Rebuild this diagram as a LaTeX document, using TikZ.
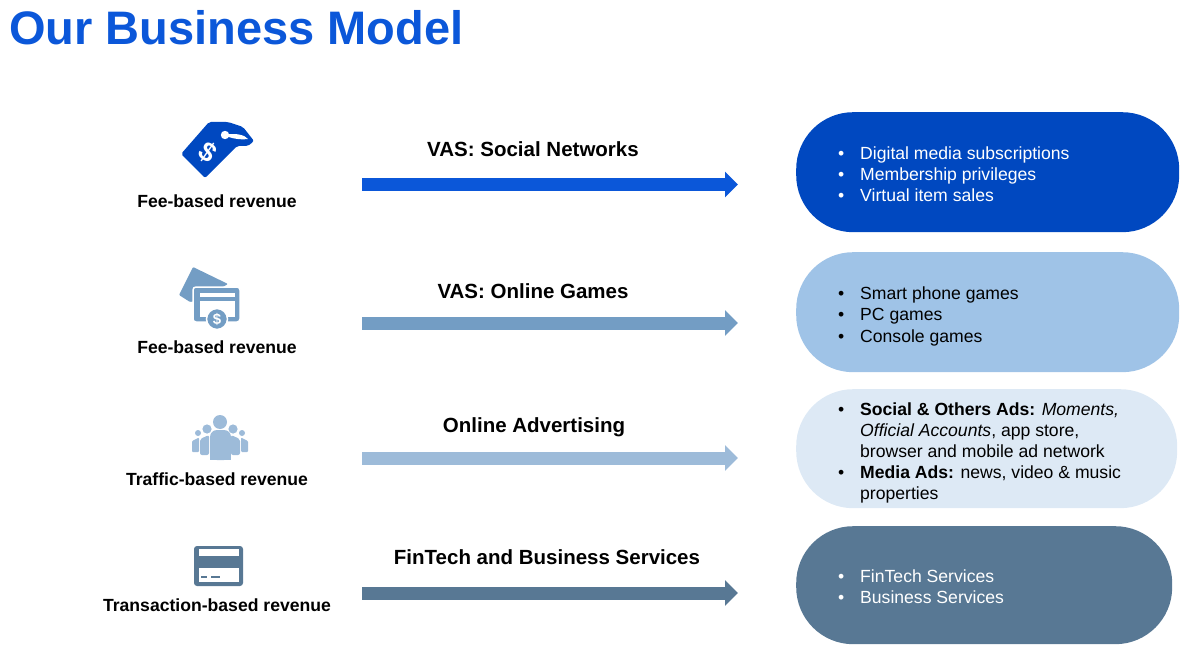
\documentclass[tikz,border=0pt]{standalone}
\usepackage{fontspec}
\setmainfont{Liberation Sans}
\usepackage{array}
\usetikzlibrary{arrows.meta}

\definecolor{titleBlue}{HTML}{0B57D9}
\definecolor{socialPill}{HTML}{0048C0}
\definecolor{gamesArrow}{HTML}{739DC4}
\definecolor{gamesPill}{HTML}{9FC3E7}
\definecolor{adsArrow}{HTML}{9DBBD9}
\definecolor{adsPill}{HTML}{DDE9F5}
\definecolor{finArrow}{HTML}{587894}

\newcommand{\bodysize}[0]{\fontsize{17.6}{21.2}\selectfont}
\newcommand{\bulletlist}[1]{\begin{tabular}{@{}p{22pt}@{}l@{}}#1\end{tabular}}

\begin{document}
\begin{tikzpicture}[x=1pt,y=-1pt]
    \tikzstyle{title} = [
      anchor=west,
      inner sep=0pt,
      text=titleBlue,
      font=\fontsize{47}{50}\selectfont\bfseries,
    ]
    \tikzstyle{revenue} = [
      anchor=center,
      inner sep=0pt,
      font=\fontsize{17.6}{20}\selectfont\bfseries,
    ]
    \tikzstyle{stream} = [
      anchor=center,
      inner sep=0pt,
      font=\fontsize{20.5}{24}\selectfont\bfseries,
    ]
    \tikzstyle{arrow} = [
      line width=13pt,
      -{Triangle[length=13pt,width=25pt]},
    ]
    \tikzstyle{pill} = [
      anchor=north west,
      inner sep=0pt,
      rounded corners=57pt,
    ]
    \tikzstyle{itemlist} = [
      anchor=west,
      inner sep=0pt,
      font=\bodysize,
    ]

    \useasboundingbox (0,0) rectangle (1183,655);

    \coordinate (socialAnchor) at (362,184.5);
    \coordinate (gamesAnchor) at (362,323);
    \coordinate (adsAnchor) at (362,458);
    \coordinate (finAnchor) at (362,593);

    \node[title] (pageTitle) at (9,28) {Our Business Model};

    % fee-based tag
    {
      \fill[socialPill, rounded corners=2pt] (181,154) -- (209,122) -- (228,122) -- (243,127) -- (254,141) -- (248,146) -- (237,146) -- (205,178) -- cycle;
      \fill[white] (225,135) circle (4.2pt);
      \fill[white] (227,134.5) .. controls (236,133) and (245,135) .. (248,139) .. controls (242,140) and (234,139) .. (227,136.5) -- cycle;
      \node[revenue, text=white, rotate=-35, font=\fontsize{27}{27}\selectfont\bfseries] (tagDollar) at (207.5,152) {\$};
      \node[revenue] (socialRevenue) at (217,201) {Fee-based revenue};
    }

    % fee-based card
    {
      \fill[gamesArrow, rounded corners=1pt] (193,267) -- (228,284) -- (200,300) -- (190,302) -- (179,295) -- cycle;
      \fill[gamesArrow, rounded corners=3pt, draw=white, line width=1.5pt] (193,287) rectangle (240,322);
      \fill[white] (200,293) rectangle (235,296.5);
      \fill[white] (200,301) rectangle (235,317);
      \fill[gamesArrow, draw=white, line width=1.5pt] (217,319) circle (10.5pt);
      \node[revenue, text=white, font=\fontsize{15}{15}\selectfont\bfseries] (cardDollar) at (217,319) {\$};
      \node[revenue] (gamesRevenue) at (217,347) {Fee-based revenue};
    }

    % traffic people
    {
      \fill[adsArrow] (220,422) circle (7pt);
      \fill[adsArrow] (207,429) circle (4.6pt);
      \fill[adsArrow] (233,429) circle (4.6pt);
      \fill[adsArrow] (198,433) circle (3pt);
      \fill[adsArrow] (242,433) circle (3pt);
      \fill[adsArrow, rounded corners=1pt] (192,452) -- (192,441) -- (199,437.5) -- (199,452) -- cycle;
      \fill[adsArrow, rounded corners=1pt] (248,452) -- (248,441) -- (241,437.5) -- (241,452) -- cycle;
      \fill[adsArrow, rounded corners=2pt] (200,455) -- (200,439) -- (209,435) -- (209,455) -- cycle;
      \fill[adsArrow, rounded corners=2pt] (240,455) -- (240,439) -- (231,435) -- (231,455) -- cycle;
      \fill[adsArrow, rounded corners=7pt] (210,460) -- (210,430) -- (231,430) -- (231,460) -- cycle;
      \fill[adsArrow] (210,450) rectangle (231,460);
      \node[revenue] (adsRevenue) at (217,479) {Traffic-based revenue};
    }

    % transaction card
    {
      \fill[finArrow, rounded corners=3pt] (194,546) rectangle (243,586);
      \fill[white] (199,549) rectangle (239,556);
      \fill[white] (199,568) rectangle (239,582);
      \fill[finArrow] (201,576) rectangle (207,578);
      \fill[finArrow] (211,576) rectangle (220,578);
      \node[revenue] (finRevenue) at (217,605) {Transaction-based revenue};
    }

    % social networks
    {
      \node[stream] (socialStream) at (533,149) {VAS: Social Networks};
      \draw[arrow, draw=titleBlue] (socialAnchor) -- ([xshift=376pt] socialAnchor);
      \node[pill, fill=socialPill, minimum width=383pt, minimum height=120pt] (socialBox) at (796,112) {};
      \node[itemlist, text=white] (socialList) at ([xshift=42pt, yshift=-4pt] socialBox.west) {\bulletlist{
        • & Digital media subscriptions\\
        • & Membership privileges\\
        • & Virtual item sales}};
    }

    % online games
    {
      \node[stream] (gamesStream) at (533,291) {VAS: Online Games};
      \draw[arrow, draw=gamesArrow] (gamesAnchor) -- ([xshift=376pt] gamesAnchor);
      \node[pill, fill=gamesPill, minimum width=383pt, minimum height=120pt] (gamesBox) at (796,252) {};
      \node[itemlist] (gamesList) at ([xshift=42pt, yshift=-4.5pt] gamesBox.west) {\bulletlist{
        • & Smart phone games\\
        • & PC games\\
        • & Console games}};
    }

    % online advertising
    {
      \node[stream] (adsStream) at (534,427) {Online Advertising};
      \draw[arrow, draw=adsArrow] (adsAnchor) -- ([xshift=376pt] adsAnchor);
      \node[pill, fill=adsPill, minimum width=381pt, minimum height=119pt] (adsBox) at (796,389) {};
      \node[itemlist] (adsList) at ([xshift=42pt, yshift=-4.5pt] adsBox.west) {\bulletlist{
        • & \textbf{Social \& Others Ads:} \textit{Moments,}\\
          & \textit{Official Accounts}, app store,\\
          & browser and mobile ad network\\
        • & \textbf{Media Ads:} news, video \& music\\
          & properties}};
    }

    % fintech
    {
      \node[stream] (finStream) at (547,557) {FinTech and Business Services};
      \draw[arrow, draw=finArrow] (finAnchor) -- ([xshift=376pt] finAnchor);
      \node[pill, fill=finArrow, minimum width=376pt, minimum height=118pt] (finBox) at (796,526) {};
      \node[itemlist, text=white] (finList) at ([xshift=42pt, yshift=-3.5pt] finBox.west) {\bulletlist{
        • & FinTech Services\\
        • & Business Services}};
    }
\end{tikzpicture}
\end{document}
